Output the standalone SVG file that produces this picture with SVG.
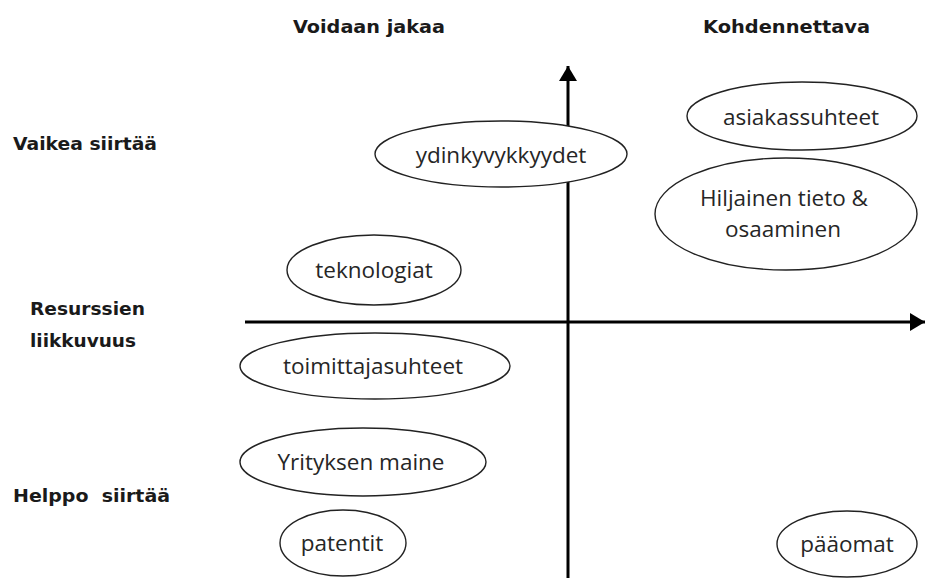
<svg xmlns="http://www.w3.org/2000/svg" width="926" height="578" viewBox="0 0 926 578">
<style>
.hdr{font-family:"DejaVu Sans",Verdana,sans-serif;font-weight:bold;font-size:17px;fill:#1a1a1a}
.lbl{font-family:"Open Sans","Liberation Sans",sans-serif;font-size:22.5px;fill:#262626;text-anchor:middle}
.el{fill:#fff;stroke:#222;stroke-width:1.4}
.ax{stroke:#000;stroke-width:3;fill:none}
</style>
<defs>
<marker id="ah" markerWidth="6" markerHeight="6" refX="5" refY="3" orient="auto" markerUnits="strokeWidth">
<path d="M0,0 L5,3 L0,6 Z" fill="#000"/>
</marker>
</defs>
<rect width="926" height="578" fill="#fff"/>
<g id="connectors">
<line class="ax" x1="568" y1="578" x2="568" y2="66" marker-end="url(#ah)"/>
<line class="ax" x1="245" y1="322" x2="925" y2="322" marker-end="url(#ah)"/>
</g>
<g id="axis-labels">
<text class="hdr" x="293" y="33" textLength="152" lengthAdjust="spacingAndGlyphs">Voidaan jakaa</text>
<text class="hdr" x="703" y="33" textLength="167" lengthAdjust="spacingAndGlyphs">Kohdennettava</text>
<text class="hdr" x="13" y="150" textLength="144" lengthAdjust="spacingAndGlyphs">Vaikea siirtää</text>
<text class="hdr" x="30" y="315" textLength="115" lengthAdjust="spacingAndGlyphs">Resurssien</text>
<text class="hdr" x="30" y="347" textLength="106" lengthAdjust="spacingAndGlyphs">liikkuvuus</text>
<text class="hdr" x="13" y="502" textLength="157" lengthAdjust="spacingAndGlyphs" xml:space="preserve">Helppo  siirtää</text>
</g>
<g id="ydinkyvykkyydet">
<ellipse class="el" cx="501" cy="154" rx="126" ry="33"/>
<text class="lbl" x="501" y="163">ydinkyvykkyydet</text>
</g>
<g id="asiakassuhteet">
<ellipse class="el" cx="802" cy="116" rx="115" ry="34"/>
<text class="lbl" x="801" y="125">asiakassuhteet</text>
</g>
<g id="hiljainen">
<ellipse class="el" cx="786" cy="214" rx="131" ry="56"/>
<text class="lbl" x="784" y="206">Hiljainen tieto &amp;</text>
<text class="lbl" x="783" y="237">osaaminen</text>
</g>
<g id="teknologiat">
<ellipse class="el" cx="374" cy="270" rx="87" ry="35"/>
<text class="lbl" x="374" y="278">teknologiat</text>
</g>
<g id="toimittajasuhteet">
<ellipse class="el" cx="375" cy="366" rx="135" ry="33"/>
<text class="lbl" x="373" y="374">toimittajasuhteet</text>
</g>
<g id="yrityksen-maine">
<ellipse class="el" cx="363" cy="462" rx="123" ry="34"/>
<text class="lbl" x="361" y="470">Yrityksen maine</text>
</g>
<g id="patentit">
<ellipse class="el" cx="343" cy="543" rx="63" ry="33"/>
<text class="lbl" x="342" y="551">patentit</text>
</g>
<g id="paaomat">
<ellipse class="el" cx="847" cy="544" rx="70" ry="33"/>
<text class="lbl" x="847" y="552">pääomat</text>
</g>
</svg>
